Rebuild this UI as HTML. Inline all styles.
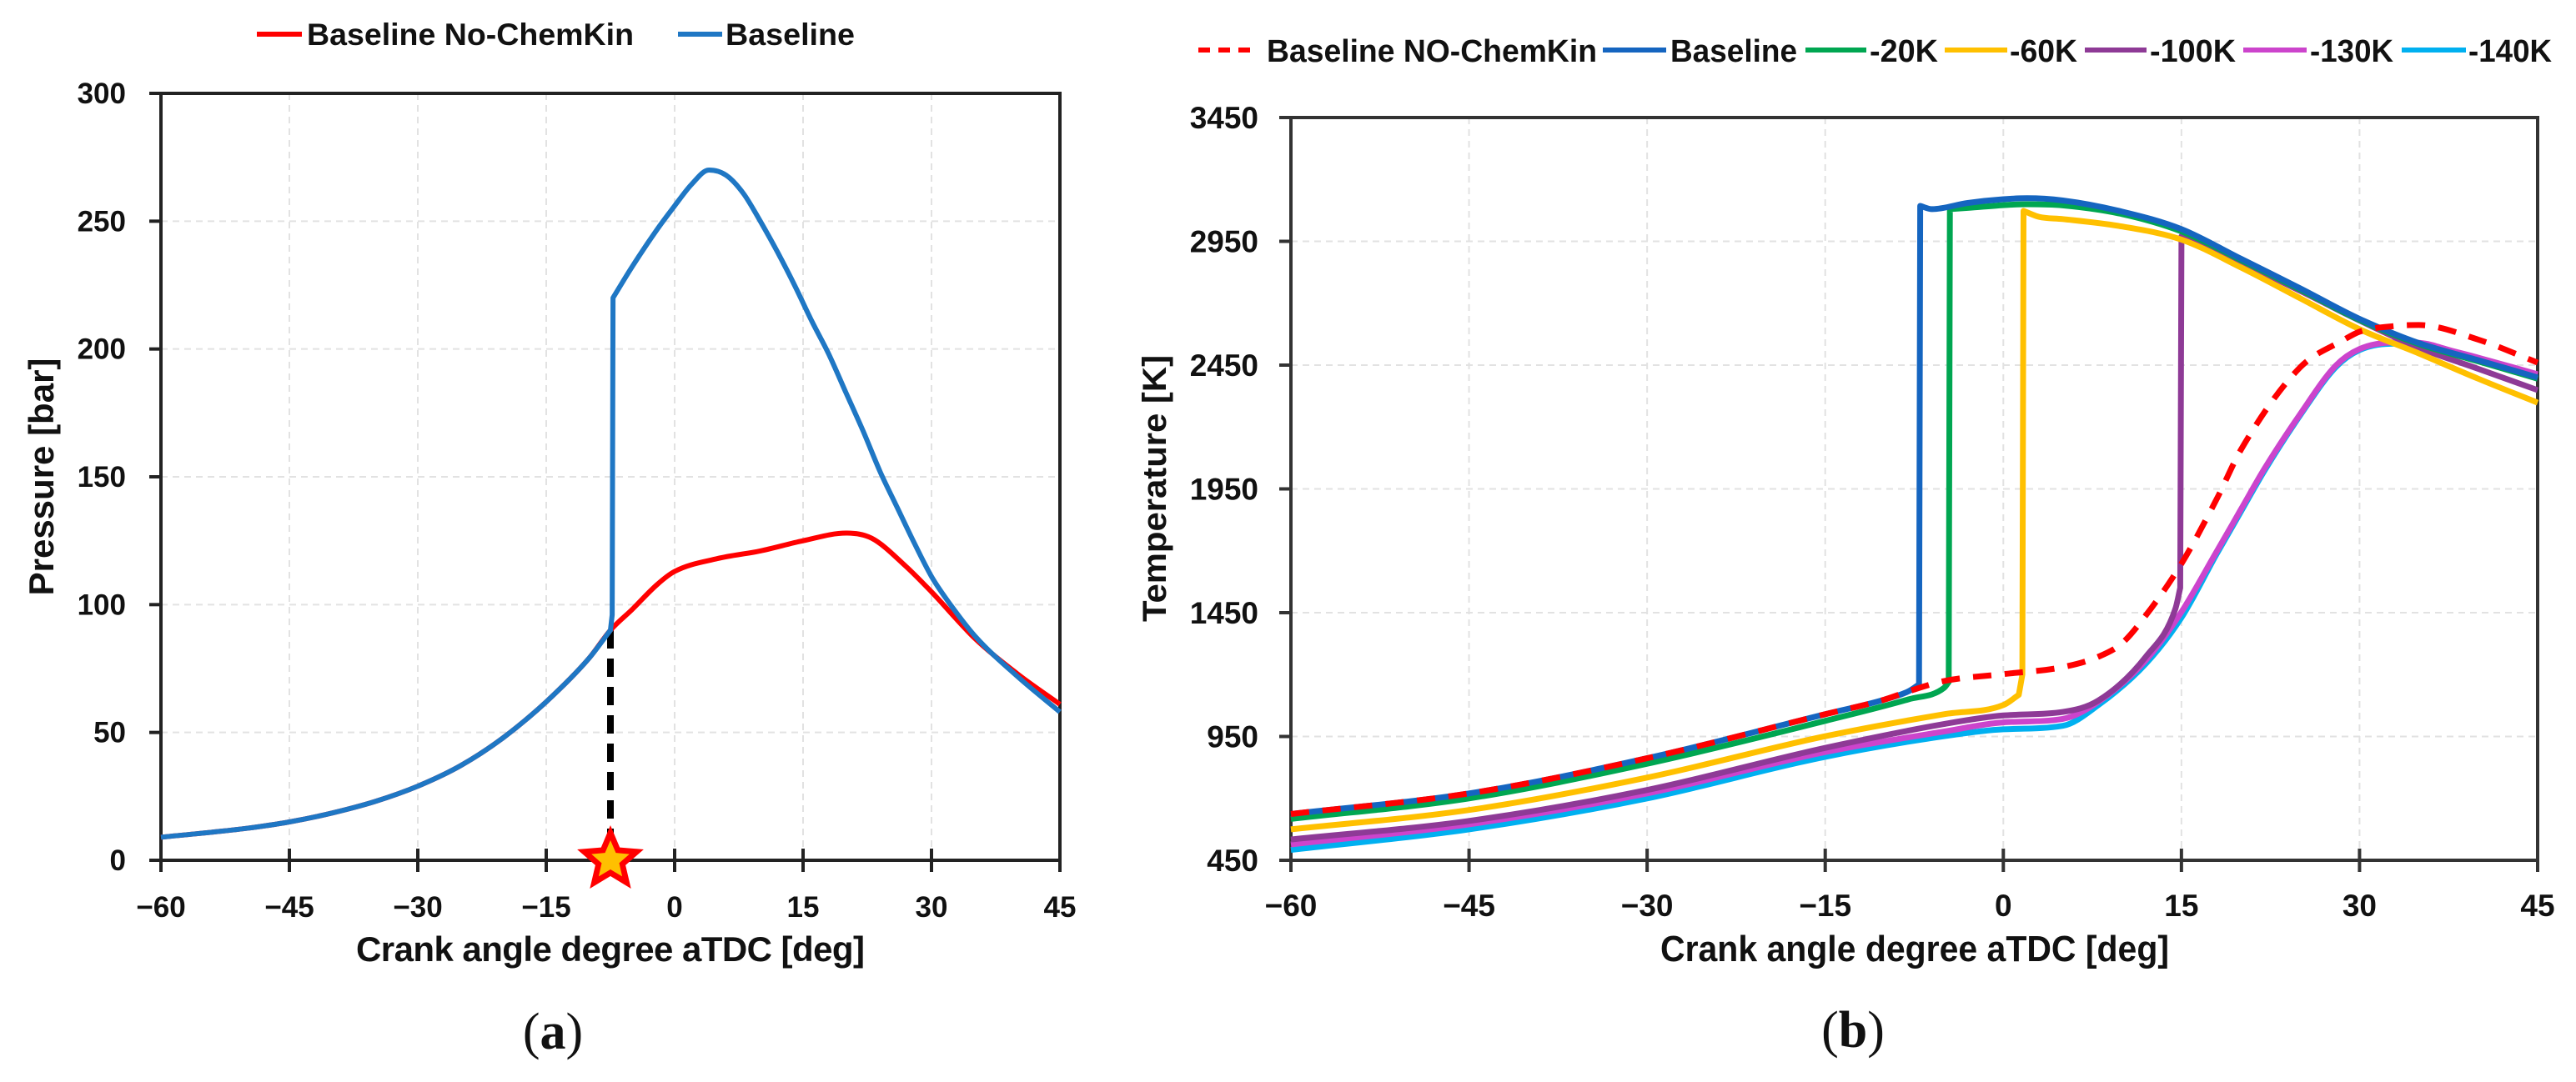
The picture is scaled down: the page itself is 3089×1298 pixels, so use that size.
<!DOCTYPE html>
<html><head><meta charset="utf-8"><title>Pressure and temperature vs crank angle</title>
<style>
html,body{margin:0;padding:0;background:#fff;}
svg{display:block;}
text{font-family:"Liberation Sans",sans-serif;font-weight:bold;fill:#111;}
.nar{font-family:"Liberation Sans Narrow","Liberation Sans",sans-serif;}
</style></head>
<body>
<svg id="fig" xmlns="http://www.w3.org/2000/svg" width="3089" height="1298" viewBox="0 0 3089 1298">
  <g id="chartA"></g>
  <g id="chartB"></g>
</svg>
<script>
// ---------- Chart (a) data ----------
const aXTicks = [-60,-45,-30,-15,0,15,30,45];
const aYTicks = [0,50,100,150,200,250,300];
const aRedX = [-60,-50,-45,-40,-35,-30,-25,-20,-15,-10,-7.5,-5,-2,0,5,10,15,20,23,27,30,35,40,45];
const aRedY = [9,12.5,15,18.5,23,29,37,48,62,79,90,98,108,113,118,121,125,128,126,115,105,87,73,61];
const aBlueX = [-60,-50,-45,-40,-35,-30,-25,-20,-15,-10,-7.5,-7.3,-7.2,-5,-2,0,2,4,6,8,10,12,14,16,18,20,22,24,26,28,30,32,35,40,45];
const aBlueY = [9,12.5,15,18.5,23,29,37,48,62,79,90,96,220,232,247,256,264.5,270,268,261,250,238,225,211,198,183,168,152,138,124,111,101,88,72,58];
const aMarkerX = -7.5;
const aMarkerY = 90;

// ---------- Chart (b) data ----------
const bXTicks = [-60,-45,-30,-15,0,15,30,45];
const bYTicks = [450,950,1450,1950,2450,2950,3450];
const bNoChemX = [-60,-45,-30,-15,-10,-8,-5,0,5,8,10,12,15,18,20,25,28.6,30,33,35,40,45];
const bNoChemY = [637,720,862,1040,1099,1132,1174,1202,1230,1272,1327,1439,1648,1912,2107,2441,2550,2585,2608,2612,2553,2460];
const bBaseX = [-60,-45,-30,-15,-10,-8,-7.1,-7.0,-6,-3,0,2,5,10,15,20,25,30,35,40,45];
const bBaseY = [637,720,862,1040,1099,1132,1160,3093,3080,3105,3120,3124,3115,3070,2999,2880,2760,2637,2539,2470,2400];
const b20X = [-60,-45,-30,-15,-8,-5,-4.6,-4.5,-3,0,2,5,10,15,20,25,30,35,40,45];
const b20Y = [617,700,840,1013,1100,1146,1170,3080,3085,3096,3100,3095,3060,2990,2875,2755,2632,2535,2465,2395];
const b60X = [-60,-45,-30,-15,-5,0,1.3,1.6,1.7,3,5,10,15,20,25,30,35,40,45];
const b60Y = [575,653,784,951,1040,1077,1118,1200,3073,3049,3040,3010,2957,2845,2720,2595,2497,2395,2298];
const b100X = [-60,-45,-30,-15,-5,0,5,8,12,14.5,14.9,15.0,20,25,30,35,40,45];
const b100Y = [534,609,734,904,1000,1035,1049,1095,1272,1467,1550,2971,2865,2750,2630,2520,2435,2349];
const b130X = [-60,-45,-30,-15,-5,0,5,8,12,15,18,20,22,25,28,30,33,35,38,40,45];
const b130Y = [514,595,720,887,970,1007,1021,1090,1258,1453,1700,1866,2032,2252,2448,2515,2542,2540,2505,2480,2413];
const b140X = [-60,-45,-30,-15,-5,0,5,8,12,15,18,20,22,25,28,30,33,35,38,40,45];
const b140Y = [492,575,700,868,951,979,993,1077,1244,1430,1690,1857,2024,2247,2442,2511,2537,2534,2497,2470,2395];

const NS = "http://www.w3.org/2000/svg";
function mk(parent, tag, attrs, txt){
  const e = document.createElementNS(NS, tag);
  for (const k in attrs) e.setAttribute(k, attrs[k]);
  if (txt !== undefined) e.textContent = txt;
  parent.appendChild(e);
  return e;
}
function monoSeg(p){
  const n=p.length;
  if (n===2) return "L"+p[1][0].toFixed(1)+","+p[1][1].toFixed(1);
  const d=[],m=[];
  for(let i=0;i<n-1;i++) d.push((p[i+1][1]-p[i][1])/(p[i+1][0]-p[i][0]));
  m[0]=d[0]; m[n-1]=d[n-2];
  for(let i=1;i<n-1;i++){ m[i]=(d[i-1]*d[i]<=0)?0:(d[i-1]+d[i])/2; }
  for(let i=0;i<n-1;i++){
    if(d[i]===0){m[i]=0;m[i+1]=0;continue;}
    const a=m[i]/d[i], b=m[i+1]/d[i], s=a*a+b*b;
    if(s>9){const t=3/Math.sqrt(s); m[i]=t*a*d[i]; m[i+1]=t*b*d[i];}
  }
  let s="";
  for(let i=0;i<n-1;i++){
    const h=(p[i+1][0]-p[i][0])/3;
    s+="C"+(p[i][0]+h).toFixed(1)+","+(p[i][1]+m[i]*h).toFixed(1)+" "+(p[i+1][0]-h).toFixed(1)+","+(p[i+1][1]-m[i+1]*h).toFixed(1)+" "+p[i+1][0].toFixed(1)+","+p[i+1][1].toFixed(1);
  }
  return s;
}
function pathD(xs, ys, X, Y){
  const segs=[[0]];
  for(let i=1;i<xs.length;i++){
    if(Math.abs(xs[i]-xs[i-1])<0.35){ segs.push([i-1,i]); segs.push([i]); }
    else segs[segs.length-1].push(i);
  }
  let d="", first=true;
  segs.forEach(seg=>{
    if(seg.length<2) return;
    const p=seg.map(i=>[X(xs[i]),Y(ys[i])]);
    d+=(first?"M":"L")+p[0][0].toFixed(1)+","+p[0][1].toFixed(1);
    first=false;
    d+=monoSeg(p);
  });
  return d;
}

// ---------- Chart (a) ----------
(function(){
  const g = document.getElementById('chartA');
  const L=193,R=1271,T=112,B=1032;
  const X = v => L+(v+60)*(R-L)/105;
  const Y = v => B-v*(B-T)/300;
  aXTicks.forEach(t=>{
    if (t>-60 && t<45) { const ln = mk(g,'line',{x1:X(t),x2:X(t),y1:T,y2:B,stroke:'#e2e2e2','stroke-width':2,'stroke-dasharray':'8 6'});
        }
    const tk = mk(g,'line',{x1:X(t),x2:X(t),y1:B-14,y2:B+14,stroke:'#222','stroke-width':4});
     
    const lb = mk(g,'text',{x:X(t),y:1100,'font-size':35,'text-anchor':'middle'}, t<0?'\u2212'+(-t):String(t));
     
  });
  aYTicks.forEach(t=>{
    if (t>0 && t<300){ const ln = mk(g,'line',{x1:L,x2:R,y1:Y(t),y2:Y(t),stroke:'#e2e2e2','stroke-width':2,'stroke-dasharray':'8 6'});
        }
    const tk = mk(g,'line',{x1:L-14,x2:L,y1:Y(t),y2:Y(t),stroke:'#222','stroke-width':4});
     
    const lb = mk(g,'text',{x:151,y:Y(t)+12,'font-size':35,'text-anchor':'end'}, String(t));
     
  });
  const fr = mk(g,'rect',{x:L,y:T,width:R-L,height:B-T,fill:'none',stroke:'#222','stroke-width':4});
   

  const dl = mk(g,'line',{x1:X(aMarkerX),x2:X(aMarkerX),y1:Y(aMarkerY),y2:Y(0),stroke:'#000','stroke-width':8,'stroke-dasharray':'22 12'});
   

  const red = mk(g,'path',{d:pathD(aRedX,aRedY,X,Y),fill:'none',stroke:'#ff0000','stroke-width':6,'stroke-linejoin':'round'});
   
  const blue = mk(g,'path',{d:pathD(aBlueX,aBlueY,X,Y),fill:'none',stroke:'#1f77c4','stroke-width':6,'stroke-linejoin':'round'});
   

  const cx=X(aMarkerX), cy=Y(0);
  function star(r1,r2){ let s=''; for(let i=0;i<10;i++){const r=i%2?r2:r1; const a=-Math.PI/2+i*Math.PI/5; s+=(cx+r*Math.cos(a)).toFixed(1)+','+(cy+r*Math.sin(a)).toFixed(1)+' ';} return s; }
  const st = mk(g,'polygon',{points:star(42,19),fill:'#ff0000'});
   
  const st2 = mk(g,'polygon',{points:star(24,11),fill:'#ffc000'});
   

  const xt = mk(g,'text',{x:732,y:1153,'font-size':42,'text-anchor':'middle',textLength:610},'Crank angle degree aTDC [deg]');
   
  const yt = mk(g,'text',{x:0,y:0,'font-size':42,'text-anchor':'middle',transform:'translate(64,572) rotate(-90)'},'Pressure [bar]');
   
  const cap = mk(g,'text',{x:663,y:1258,'font-size':62,'text-anchor':'middle',style:'font-family:"Liberation Serif",serif;font-weight:normal'});
   
  cap.innerHTML = '(<tspan font-weight="bold">a</tspan>)';

  const l1 = mk(g,'line',{x1:308,x2:362,y1:41,y2:41,stroke:'#ff0000','stroke-width':6});
   
  const t1 = mk(g,'text',{x:368,y:54,'font-size':37,textLength:392,lengthAdjust:'spacingAndGlyphs'},'Baseline No-ChemKin');
   
  const l2 = mk(g,'line',{x1:813,x2:866,y1:41,y2:41,stroke:'#1f77c4','stroke-width':6});
   
  const t2 = mk(g,'text',{x:870,y:54,'font-size':37,textLength:155,lengthAdjust:'spacingAndGlyphs'},'Baseline');
   
})();

// ---------- Chart (b) ----------
(function(){
  const g = document.getElementById('chartB');
  const L=1548,R=3043,T=141,B=1032;
  const X = v => L+(v+60)*(R-L)/105;
  const Y = v => B-(v-450)*(B-T)/3000;
  bXTicks.forEach(t=>{
    if (t>-60 && t<45){ const ln = mk(g,'line',{x1:X(t),x2:X(t),y1:T,y2:B,stroke:'#e2e2e2','stroke-width':2,'stroke-dasharray':'8 6'});
        }
    const tk = mk(g,'line',{x1:X(t),x2:X(t),y1:B-14,y2:B+14,stroke:'#333','stroke-width':4});
     
    const lb = mk(g,'text',{x:X(t),y:1099,'font-size':37,'text-anchor':'middle','class':'nar'}, t<0?'\u2212'+(-t):String(t));
     
  });
  bYTicks.forEach(t=>{
    if (t>450 && t<3450){ const ln = mk(g,'line',{x1:L,x2:R,y1:Y(t),y2:Y(t),stroke:'#e2e2e2','stroke-width':2,'stroke-dasharray':'8 6'});
        }
    const tk = mk(g,'line',{x1:L-14,x2:L,y1:Y(t),y2:Y(t),stroke:'#333','stroke-width':4});
     
    const lb = mk(g,'text',{x:1509,y:Y(t)+13,'font-size':37,'text-anchor':'end','class':'nar'}, String(t));
     
  });
  const fr = mk(g,'rect',{x:L,y:T,width:R-L,height:B-T,fill:'none',stroke:'#333','stroke-width':4});
   

  const series = [
    [b140X,b140Y,'#00b0f0','series-minus-140k',null],
    [b130X,b130Y,'#cc44cc','series-minus-130k',null],
    [b100X,b100Y,'#8e3a96','series-minus-100k',null],
    [b60X,b60Y,'#ffc000','series-minus-60k',null],
    [b20X,b20Y,'#00a651','series-minus-20k',null],
    [bBaseX,bBaseY,'#1565c0','series-baseline',null],
    [bNoChemX,bNoChemY,'#ff0000','series-baseline-no-chemkin','22 16']
  ];
  series.forEach(s=>{
    const a = {d:pathD(s[0],s[1],X,Y),fill:'none',stroke:s[2],'stroke-width':7,'stroke-linejoin':'round'};
    if (s[4]) a['stroke-dasharray']=s[4];
    const p = mk(g,'path',a);
    
    
  });

  const xt = mk(g,'text',{x:2296,y:1153,'font-size':44,'text-anchor':'middle','class':'nar',textLength:610,lengthAdjust:'spacingAndGlyphs'},'Crank angle degree aTDC [deg]');
   
  const yt = mk(g,'text',{x:0,y:0,'font-size':40,'text-anchor':'middle',transform:'translate(1398,586) rotate(-90)',textLength:320,lengthAdjust:'spacingAndGlyphs'},'Temperature [K]');
   
  const cap = mk(g,'text',{x:2222,y:1256,'font-size':62,'text-anchor':'middle',style:'font-family:"Liberation Serif",serif;font-weight:normal'});
   
  cap.innerHTML = '(<tspan font-weight="bold">b</tspan>)';

  const leg = [
    [1437,1509,'#ff0000','14 10',1519,396,'Baseline NO-ChemKin','legend-entry-no-chemkin'],
    [1922,1998,'#1565c0',null,2003,152,'Baseline','legend-entry-baseline'],
    [2165,2238,'#00a651',null,2242,82,'-20K','legend-entry-minus-20k'],
    [2332,2407,'#ffc000',null,2410,81,'-60K','legend-entry-minus-60k'],
    [2500,2574,'#8e3a96',null,2578,103,'-100K','legend-entry-minus-100k'],
    [2690,2766,'#cc44cc',null,2770,100,'-130K','legend-entry-minus-130k'],
    [2880,2957,'#00b0f0',null,2960,100,'-140K','legend-entry-minus-140k']
  ];
  leg.forEach(e=>{
    const a = {x1:e[0],x2:e[1],y1:60,y2:60,stroke:e[2],'stroke-width':6};
    if (e[3]) a['stroke-dasharray']=e[3];
    const ln = mk(g,'line',a);
    
    
    const tx = mk(g,'text',{x:e[4],y:74,'font-size':38,'class':'nar',textLength:e[5],lengthAdjust:'spacingAndGlyphs'},e[6]);
    
    
  });
})();
</script>
</body></html>
